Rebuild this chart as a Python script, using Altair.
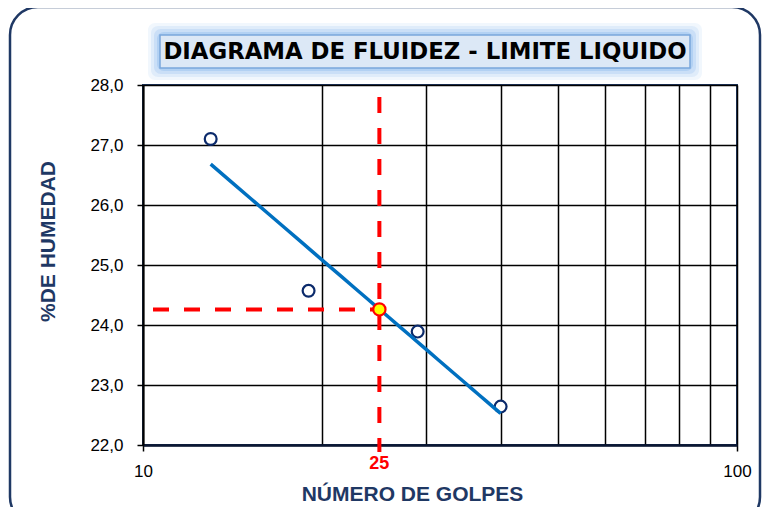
import altair as alt
import pandas as pd

# ---- data ----
golpes = [13, 19, 29, 40]
humedad = [27.10, 24.57, 23.89, 22.64]
ll_golpes = [25]
ll_humedad = [24.26]
x_ticks = [10, 20, 30, 40, 50, 60, 70, 80, 90, 100]
y_ticks = [22, 23, 24, 25, 26, 27, 28]
title_text = "DIAGRAMA DE FLUIDEZ - LIMITE LIQUIDO"
x_title = "NÚMERO DE GOLPES"
y_title = "%DE HUMEDAD"
ll_label = ["25"]

pts = pd.DataFrame({"golpes": golpes, "humedad": humedad})
ll = pd.DataFrame({"golpes": ll_golpes, "humedad": ll_humedad,
                   "x0": [x_ticks[0]], "lab": ll_label})
one = pd.DataFrame({"k": [0]})

W, H = 594, 360
NAVY = "#1F3864"
SANS = "Liberation Sans, Arial"

xscale = alt.Scale(type="log", domain=[10, 100], nice=False)
yscale = alt.Scale(domain=[22, 28], nice=False, zero=False)

xaxis = alt.Axis(
    values=x_ticks,
    labelExpr="datum.value == 10 || datum.value == 100 ? format(datum.value, 'd') : ''",
    grid=True, gridColor="#000000", gridWidth=1.5, gridOpacity=1,
    ticks=True, tickSize=6, tickColor="#000000", tickWidth=1.5,
    tickOpacity={"condition": {"test": "datum.value == 10 || datum.value == 100", "value": 1}, "value": 0},
    domainColor="#0b1733", domainWidth=2.5,
    labelFont=SANS, labelFontSize=17, labelColor="#000000", labelPadding=12,
    labelFlush=False, labelOverlap=False,
    title=x_title, titleFont=SANS, titleFontSize=21, titleFontWeight="bold",
    titleColor=NAVY, titleX=269, titleY=55, titleBaseline="alphabetic",
)
yaxis = alt.Axis(
    values=y_ticks,
    labelExpr="replace(format(datum.value, '.1f'), '.', ',')",
    grid=True, gridColor="#000000", gridWidth=1.5, gridOpacity=1,
    tickSize=6, tickColor="#000000", tickWidth=1.5,
    domainColor="#000000", domainWidth=2,
    labelFont=SANS, labelFontSize=17, labelColor="#000000", labelPadding=14,
    labelFlush=False, labelOverlap=False,
    title=y_title, titleFont=SANS, titleFontSize=21, titleFontWeight="bold",
    titleColor=NAVY, titleX=-89, titleY=156, titleBaseline="alphabetic", titleAngle=270,
)

# outer rounded frame
frame = alt.Chart(one).mark_rect(
    fillOpacity=0, stroke=NAVY, strokeWidth=2.5, cornerRadius=28
).encode(x=alt.value(-133), x2=alt.value(617), y=alt.value(-78), y2=alt.value(440))

# title box glow + box
glow_layers = []
for pad, op in [(12, 0.12), (9, 0.18), (6, 0.26), (3, 0.4)]:
    glow_layers.append(
        alt.Chart(one).mark_rect(fill="#8fbbee", opacity=op, cornerRadius=7).encode(
            x=alt.value(17 - pad), x2=alt.value(547 + pad),
            y=alt.value(-50 - pad), y2=alt.value(-17 + pad))
    )
tbox = alt.Chart(one).mark_rect(fill="#dce8f6", stroke="#7aa6dc", strokeWidth=1.5).encode(
    x=alt.value(17), x2=alt.value(547), y=alt.value(-50), y2=alt.value(-17))
ttext = alt.Chart(one).mark_text(
    text=title_text, font="DejaVu Sans", fontWeight="bold", fontSize=22.8,
    color="#000000", align="center", baseline="middle"
).encode(x=alt.value(282), y=alt.value(-33))

# data layers
points = alt.Chart(pts).mark_point(
    shape="circle", filled=True, fill="#ffffff", stroke="#0b2a6b", strokeWidth=2.2, size=140, opacity=1
).encode(
    x=alt.X("golpes:Q", scale=xscale, axis=xaxis),
    y=alt.Y("humedad:Q", scale=yscale, axis=yaxis),
)

trend = alt.Chart(pts).transform_regression(
    "golpes", "humedad", method="log"
).mark_line(color="#0070C0", strokeWidth=3.5).encode(
    x=alt.X("golpes:Q", scale=xscale),
    y=alt.Y("humedad:Q", scale=yscale),
)

vrule = alt.Chart(ll).mark_rule(
    color="#ff0000", strokeWidth=4, strokeDash=[16, 15]
).encode(x=alt.X("golpes:Q", scale=xscale), y=alt.value(12), y2=alt.value(367))

hrule = alt.Chart(ll).mark_rule(
    color="#ff0000", strokeWidth=4, strokeDash=[16, 15], strokeDashOffset=21
).encode(
    x=alt.X("x0:Q", scale=xscale), x2="golpes:Q",
    y=alt.Y("humedad:Q", scale=yscale),
)

llpoint = alt.Chart(ll).mark_point(
    shape="circle", filled=True, fill="#ffff00", stroke="#ff0000", strokeWidth=2.2, size=150, opacity=1
).encode(x=alt.X("golpes:Q", scale=xscale), y=alt.Y("humedad:Q", scale=yscale))

lltext = alt.Chart(ll).mark_text(
    font=SANS, fontWeight="bold", fontSize=18, color="#ff0000",
    align="center", baseline="middle"
).encode(x=alt.X("golpes:Q", scale=xscale), y=alt.value(H + 19), text="lab:N")

chart = alt.layer(
    frame, *glow_layers, tbox, ttext, points, trend, vrule, hrule, llpoint, lltext
).properties(
    width=W, height=H,
    padding={"left": 135, "top": 77, "right": 26, "bottom": 62},
    autosize=alt.AutoSizeParams(type="none"),
    background="#ffffff",
).configure_view(stroke=NAVY, strokeWidth=2)

chart.save("out.html", embed_options={"renderer": "svg", "actions": False})
